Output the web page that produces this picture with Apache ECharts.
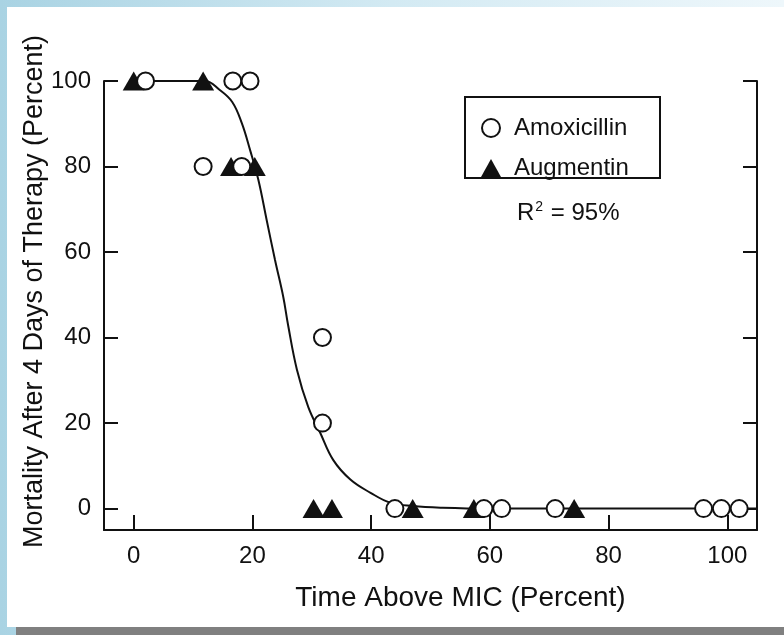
<!DOCTYPE html>
<html lang="en">
  <head>
    <meta charset="utf-8" />
    <title>Mortality vs Time Above MIC</title>
    <script src="https://cdn.jsdelivr.net/npm/echarts@6.0.0/dist/echarts.min.js"></script>
    <style>
      html, body { margin: 0; padding: 0; }
      #main { width: 784px; height: 635px; }
    </style>
  </head>
  <body>
    <div id="main"></div>
    <script>
      // tick labels
      var xTicks = [0, 20, 40, 60, 80, 100];
      var yTicks = [0, 20, 40, 60, 80, 100];

      // Amoxicillin (open circles)
      var amoxX = [2, 16.7, 19.6, 11.7, 18.2, 31.8, 31.8, 44, 59, 62, 71, 96, 99, 102];
      var amoxY = [100, 100, 100, 80, 80, 40, 20, 0, 0, 0, 0, 0, 0, 0];

      // Augmentin (filled triangles)
      var augX = [0, 11.7, 16.4, 20.4, 30.3, 33.4, 47, 57.3, 74.2];
      var augY = [100, 100, 80, 80, 0, 0, 0, 0, 0];

      // fitted curve, R2 = 95%
      var fitX = [0, 12, 14.5, 16.6, 18.2, 19.6, 21, 22.4, 23.8, 25.2, 26, 27.5, 29.4, 31.4, 33.6, 36.5, 39.9, 43.2, 47, 52, 60, 80, 105];
      var fitY = [100, 100, 97.9, 95.1, 90.2, 83.9, 76.9, 67.5, 58.2, 49.5, 43, 32.5, 23.8, 17.8, 11.4, 6.8, 3.7, 1.4, 0.6, 0.2, 0, 0, 0];

      function pairs(xs, ys) {
        return xs.map(function (x, i) { return [x, ys[i]]; });
      }

      var font = "Liberation Sans, Arial, Helvetica, sans-serif";
      var chart = echarts.init(document.getElementById("main"));

      var yAxisBase = {
        type: "value",
        min: -5,
        max: 100,
        splitLine: { show: false },
        axisLine: { show: true, onZero: false, lineStyle: { color: "#111", width: 2 } },
        axisTick: { show: true, inside: true, length: 14, customValues: yTicks, lineStyle: { color: "#111", width: 2 } }
      };

      var option = {
        animation: false,
        backgroundColor: "#ffffff",
        graphic: [
          {
            type: "rect", z: -10, silent: true,
            shape: { x: 0, y: 0, width: 784, height: 635 },
            style: {
              fill: new echarts.graphic.LinearGradient(0, 0, 1, 0, [
                { offset: 0, color: "#a9d3e3" },
                { offset: 0.5, color: "#d3eaf3" },
                { offset: 1, color: "#eef7fb" }
              ])
            }
          },
          {
            type: "rect", z: -9, silent: true,
            shape: { x: 7, y: 7, width: 777, height: 620 },
            style: { fill: "#ffffff" }
          },
          {
            type: "rect", z: -9, silent: true,
            shape: { x: 16, y: 627, width: 768, height: 8 },
            style: { fill: "#808080" }
          },
          {
            type: "rect", z: 1, silent: true,
            shape: { x: 465, y: 97, width: 195, height: 81 },
            style: { fill: "none", stroke: "#111", lineWidth: 2 }
          },
          {
            type: "text", z: 5,
            x: 517, y: 213,
            style: {
              text: "{a|R}{s|2}{a| = 95%}",
              verticalAlign: "middle",
              rich: {
                a: { fontFamily: font, fontSize: 24, fill: "#111" },
                s: { fontFamily: font, fontSize: 14, fill: "#111", verticalAlign: "top", padding: [0, 1, 12, 1] }
              }
            }
          }
        ],
        grid: { left: 104, right: 27, top: 81, bottom: 105, containLabel: false },
        legend: {
          left: 476,
          top: 111,
          orient: "vertical",
          itemWidth: 20,
          itemHeight: 18,
          itemGap: 16,
          textStyle: { fontFamily: font, fontSize: 24, lineHeight: 18, color: "#111", padding: [0, 0, 0, 8] },
          data: [
            { name: "Amoxicillin", icon: "circle" },
            { name: "Augmentin", icon: "triangle" }
          ]
        },
        xAxis: {
          type: "value",
          min: -5,
          max: 105,
          name: "Time Above MIC (Percent)",
          nameLocation: "middle",
          nameGap: 54,
          nameMoveOverlap: false,
          nameTextStyle: { fontFamily: font, fontSize: 28, color: "#111", padding: [0, 0, 0, 60] },
          splitLine: { show: false },
          axisLine: { show: true, onZero: false, lineStyle: { color: "#111", width: 2 } },
          axisTick: { show: true, inside: true, length: 15, customValues: xTicks, lineStyle: { color: "#111", width: 2 } },
          axisLabel: { customValues: xTicks, margin: 14, fontFamily: font, fontSize: 24, color: "#111" }
        },
        yAxis: [
          Object.assign({}, yAxisBase, {
            position: "left",
            name: "Mortality After 4 Days of Therapy (Percent)",
            nameLocation: "middle",
            nameGap: 56,
            nameMoveOverlap: false,
            nameRotate: 90,
            nameTextStyle: { fontFamily: font, fontSize: 27, color: "#111", padding: [0, 0, 0, 28] },
            axisLabel: { customValues: yTicks, margin: 13, fontFamily: font, fontSize: 24, color: "#111" }
          }),
          Object.assign({}, yAxisBase, {
            position: "right",
            axisLabel: { show: false }
          })
        ],
        series: [
          {
            name: "fit",
            type: "line",
            data: pairs(fitX, fitY),
            smooth: 0.4,
            showSymbol: false,
            symbol: "none",
            lineStyle: { color: "#111", width: 2 },
            z: 2
          },
          {
            name: "Augmentin",
            type: "scatter",
            symbol: "triangle",
            symbolSize: [22, 19],
            data: pairs(augX, augY),
            itemStyle: { color: "#111", opacity: 1 },
            z: 3
          },
          {
            name: "Amoxicillin",
            type: "scatter",
            symbol: "circle",
            symbolSize: 17,
            data: pairs(amoxX, amoxY),
            itemStyle: { color: "#ffffff", borderColor: "#111", borderWidth: 2, opacity: 1 },
            z: 4
          }
        ]
      };

      chart.setOption(option);
    </script>
  </body>
</html>
